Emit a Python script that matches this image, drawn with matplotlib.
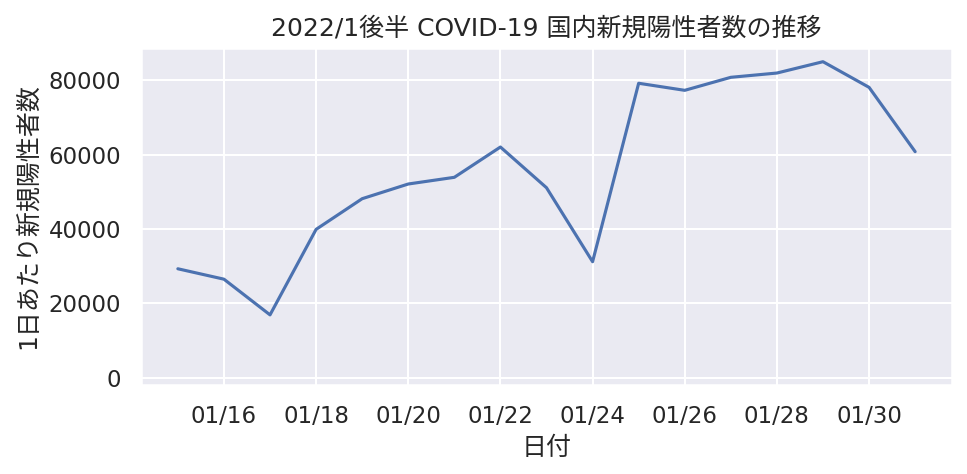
import matplotlib
matplotlib.use("Agg")
import matplotlib.pyplot as plt
import matplotlib.dates as mdates
import pandas as pd
import seaborn as sns

# 2022/1 second half, daily new positives
dates = pd.date_range("2022-01-15", "2022-01-31", freq="D")
cases = [29300, 26500, 16900, 39900, 48150, 52100, 53900, 62050,
         51100, 31200, 79200, 77300, 80800, 81950, 85000, 78100, 60800]

sns.set_theme(style="darkgrid")
# latin glyphs from DejaVu (wider, like the reference), kanji/kana fall back to Noto CJK
plt.rcParams["font.family"] = ["DejaVu Sans", "Noto Sans CJK JP"]

fig, ax = plt.subplots(figsize=(9.67 / 1.5, 4.74 / 1.5), dpi=150)
fig.subplots_adjust(left=0.1458, right=0.9845, top=0.8994, bottom=0.1878)

ax.plot(dates, cases, color="#4c72b0", lw=1.5)
ax.set_ylim(-1960, 88770)
ax.xaxis.set_major_locator(mdates.DayLocator(bymonthday=range(2, 32, 2)))
ax.xaxis.set_major_formatter(mdates.DateFormatter("%m/%d"))

ax.set_title("2022/1後半 COVID-19 国内新規陽性者数の推移")
ax.set_xlabel("日付")
ax.set_ylabel("1日あたり新規陽性者数")

fig.savefig("out.png", dpi=150)
